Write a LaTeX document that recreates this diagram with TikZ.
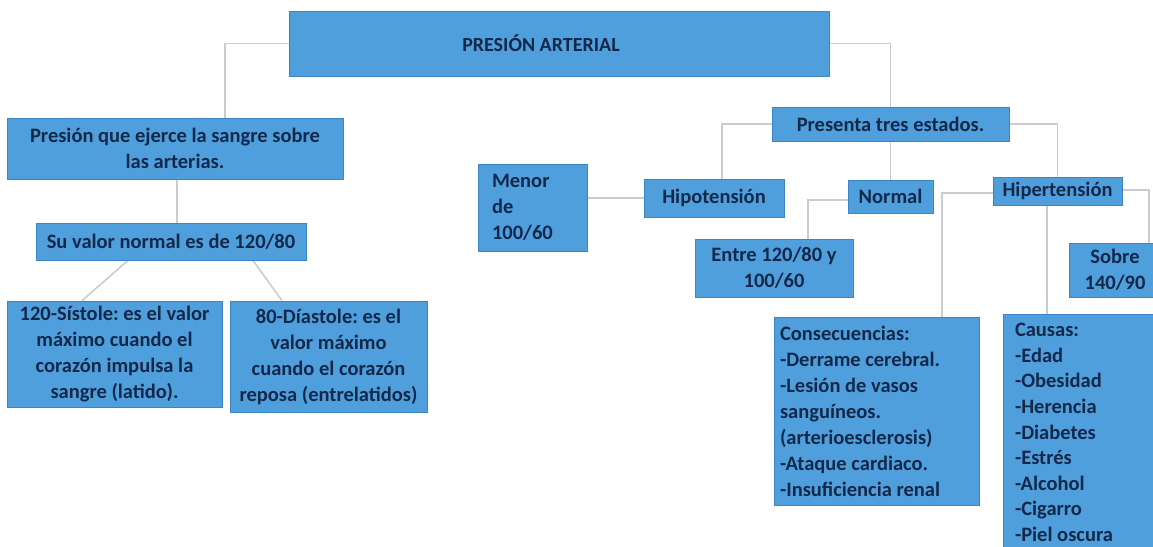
\documentclass[tikz,border=0pt]{standalone}
\usepackage{fontspec}
\setmainfont{Carlito}
\usetikzlibrary{backgrounds,calc}
\definecolor{boxfill}{HTML}{4F9FDD}
\definecolor{boxedge}{HTML}{3C84C4}
\definecolor{txt}{HTML}{14284A}
\definecolor{connc}{HTML}{C8CDD3}
\frenchspacing
\begin{document}
\begin{tikzpicture}[x=1pt,y=-1pt,
  box/.style={draw=boxedge, fill=boxfill, line width=0.8pt, inner sep=0pt, text=txt,
    font=\bfseries\fontsize{20.5}{26}\selectfont},
  conn/.style={draw=connc, line width=1.6pt}]
\useasboundingbox (0,0) rectangle (1153,546);
\clip (0,0) rectangle (1153,546);

\node[box, minimum width=540pt, minimum height=65pt, font=\bfseries\fontsize{20}{24}\selectfont] (title) at (559,43.5) {\hspace*{-36pt}PRESIÓN ARTERIAL};
\node[box, minimum width=336pt, minimum height=61pt, align=flush center] (pres) at (175,148.5) {Presión que ejerce la sangre sobre\\las arterias.};
\node[box, minimum width=270pt, minimum height=37pt] (suv) at (171,241.5) {Su valor normal es de 120/80};
\node[box, minimum width=215pt, minimum height=106pt, align=flush center] (sist) at (114.5,354) {120-Sístole: es el valor\\máximo cuando el\\corazón impulsa la\\sangre (latido).};
\node[box, minimum width=197pt, minimum height=111pt, align=flush center] (diast) at (328.5,356.5) {80-Díastole: es el\\valor máximo\\cuando el corazón\\reposa (entrelatidos)};
\node[box, minimum width=237pt, minimum height=34pt] (tres) at (890.5,124) {Presenta tres estados.};
\node[box, minimum width=109pt, minimum height=87pt, align=flush left, text width=81pt] (menor) at (532.5,207.5) {Menor\\de\\100/60};
\node[box, minimum width=140pt, minimum height=38pt] (hipo) at (714,198) {Hipotensión};
\node[box, minimum width=85pt, minimum height=33pt] (normal) at (890.5,196.5) {Normal};
\node[box, minimum width=158pt, minimum height=58pt, align=flush center] (entre) at (774,268) {Entre 120/80 y\\100/60};
\node[box, minimum width=129pt, minimum height=28pt] (hiper) at (1057.5,191) {Hipertensión};
\node[box, minimum width=92pt, minimum height=54pt, align=flush center] (sobre) at (1115,270) {Sobre\\140/90};
\node[box, minimum width=205pt, minimum height=188pt, align=flush left, text width=193pt] (conse) at (876.5,411) {Consecuencias:\\-Derrame cerebral.\\-Lesión de vasos\\sanguíneos.\\(arterioesclerosis)\\-Ataque cardiaco.\\-Insuficiencia renal};
\node[box, minimum width=162pt, minimum height=237pt, align=flush left, text width=138pt, font=\bfseries\fontsize{20.5}{25.6}\selectfont] (causas) at (1084,432.5) {Causas:\\-Edad\\-Obesidad\\-Herencia\\-Diabetes\\-Estrés\\-Alcohol\\-Cigarro\\-Piel oscura};

\begin{scope}[on background layer]
\draw[conn] (title.west) -| ([xshift=50pt]pres.north);
\draw[conn] (title.east) -| (tres.north);
\coordinate (p1) at ([xshift=2pt]pres.south);
\draw[conn] (p1) -- (p1 |- suv.north);
\draw[conn] ([xshift=-43pt]suv.south) -- ([xshift=-32.5pt]sist.north);
\draw[conn] ([xshift=82pt]suv.south) -- ([xshift=-46.5pt]diast.north);
\draw[conn] (tres.west) -| ([xshift=8pt]hipo.north);
\draw[conn] (tres.south) -- (normal.north);
\draw[conn] (tres.east) -| (hiper.north);
\draw[conn] (hipo.west) -- (hipo.west -| menor.east);
\draw[conn] ([yshift=-3.5pt]normal.west) -| ([xshift=34pt]entre.north);
\draw[conn] ([yshift=-2pt]hiper.west) -| ([xshift=65.5pt]conse.north);
\coordinate (h1) at ([xshift=-10.5pt]hiper.south);
\draw[conn] (h1) -- (h1 |- causas.north);
\draw[conn] ([yshift=1pt]hiper.east) -| ([xshift=34pt]sobre.north);
\end{scope}
\end{tikzpicture}
\end{document}
